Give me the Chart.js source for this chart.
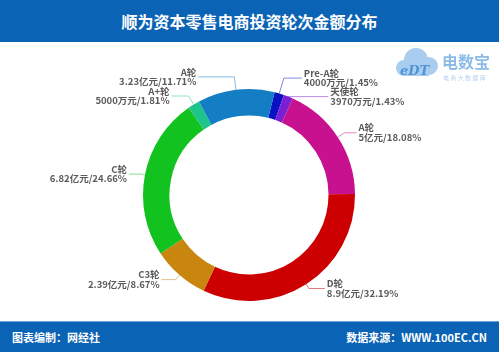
<!DOCTYPE html>
<html>
<head>
<meta charset="utf-8">
<script src="https://cdn.jsdelivr.net/npm/chart.js@4.4.1/dist/chart.umd.min.js"></script>
<style>
  body { margin: 0; width: 499px; height: 352px; position: relative; overflow: hidden; background: #fff;
         font-family: "Noto Sans CJK SC", "Noto Sans", sans-serif; }
  #head { position: absolute; left: 0; top: 0; width: 499px; height: 42px; background: #0b63b5;
          color: #fff; font-weight: bold; font-size: 16px; line-height: 42px; text-align: center; }
  #foot { position: absolute; left: 0; top: 321px; width: 499px; height: 31px; background: #0b63b5;
          border-top: 1px solid #6aa6dc; color: #fff; font-weight: bold; font-size: 11px; line-height: 30px; }
  #foot .l { position: absolute; left: 12px; }
  #foot .r { position: absolute; right: 12px; }
  #myChart { position: absolute; left: 0; top: 0; }
</style>
</head>
<body>
<div id="head">顺为资本零售电商投资轮次金额分布</div>
<div id="foot"><span class="l">图表编制：网经社</span><span class="r">数据来源：WWW.100EC.CN</span></div>
<canvas id="myChart" width="499" height="352"></canvas>
<script>
var rounds = ["Pre-A轮", "天使轮", "A轮", "D轮", "C3轮", "C轮", "A+轮", "A轮"];
var amounts = ["4000万元", "3970万元", "5亿元", "8.9亿元", "2.39亿元", "6.82亿元", "5000万元", "3.23亿元"];
var shares = [1.45, 1.43, 18.08, 32.19, 8.67, 24.66, 1.81, 11.71];
var colors = ["#0b12c4", "#7a1fd2", "#c8118e", "#cc0000", "#c8860e", "#12c21e", "#1ec48a", "#137ec4"];

// leader line tweak per label: [radial extension, horizontal length]
var tweaks = [[16, 18], [0, 40], [8, 12], [5, 16], [6, 14], [4, 12], [10, 17], [13, 36]];

var leaderLabels = {
  id: "leaderLabels",
  afterDatasetsDraw: function (chart) {
    var ctx = chart.ctx;
    var meta = chart.getDatasetMeta(0);
    ctx.save();
    meta.data.forEach(function (arc, i) {
      var p = arc.getProps(["x", "y", "startAngle", "endAngle", "outerRadius"], true);
      var mid = (p.startAngle + p.endAngle) / 2;
      var t = tweaks[i];
      var x0 = p.x + Math.cos(mid) * p.outerRadius;
      var y0 = p.y + Math.sin(mid) * p.outerRadius;
      var x1 = p.x + Math.cos(mid) * (p.outerRadius + t[0]);
      var y1 = p.y + Math.sin(mid) * (p.outerRadius + t[0]);
      var right = Math.cos(mid) >= 0;
      var x2 = x1 + (right ? t[1] : -t[1]);
      ctx.strokeStyle = colors[i];
      ctx.globalAlpha = 0.5;
      ctx.lineWidth = 1;
      ctx.beginPath();
      ctx.moveTo(x0, y0);
      ctx.lineTo(x1, y1);
      ctx.lineTo(x2, y1);
      ctx.stroke();
      ctx.globalAlpha = 1;
      ctx.fillStyle = "#5a5a5a";
      ctx.font = "bold 9.5px 'Noto Sans CJK SC', sans-serif";
      ctx.textAlign = right ? "left" : "right";
      ctx.textBaseline = "middle";
      var tx = x2 + (right ? 2 : -2);
      ctx.fillText(rounds[i], tx, y1 - 5);
      ctx.fillText(amounts[i] + "/" + shares[i].toFixed(2) + "%", tx, y1 + 4.5);
    });
    ctx.restore();
  },
  afterDraw: function (chart) {
    // 电数宝 logo
    var ctx = chart.ctx;
    ctx.save();
    ctx.fillStyle = "#a9cdef";
    ctx.beginPath();
    ctx.arc(404, 68, 8, 0, Math.PI * 2);
    ctx.arc(416, 60, 12, 0, Math.PI * 2);
    ctx.arc(429, 66, 9, 0, Math.PI * 2);
    ctx.fill();
    ctx.fillRect(404, 66, 25, 10);
    ctx.fillStyle = "#4d93d6";
    ctx.font = "italic bold 13px 'DejaVu Serif', serif";
    ctx.textBaseline = "alphabetic";
    ctx.fillText("eDT", 400, 75);
    ctx.fillStyle = "#8dbbe8";
    ctx.font = "bold 16px 'Noto Sans CJK SC', sans-serif";
    ctx.fillText("电数宝", 442, 68);
    ctx.font = "6px 'Noto Sans CJK SC', sans-serif";
    ctx.fillStyle = "#b5d3f0";
    ctx.fillText("电 商 大 数 据 库", 443, 80);
    ctx.restore();
  }
};

var ctx = document.getElementById("myChart").getContext("2d");
var chart = new Chart(ctx, {
  type: "doughnut",
  data: {
    labels: rounds,
    datasets: [
      {
        data: shares,
        backgroundColor: colors,
        borderWidth: 0,
      },
    ],
  },
  options: {
    responsive: false,
    animation: false,
    rotation: 14,
    cutout: "75%",
    layout: { padding: { left: 143, right: 144, top: 89, bottom: 51 } },
    plugins: {
      legend: { display: false },
      tooltip: { enabled: false },
    },
  },
  plugins: [leaderLabels],
});
</script>
</body>
</html>
